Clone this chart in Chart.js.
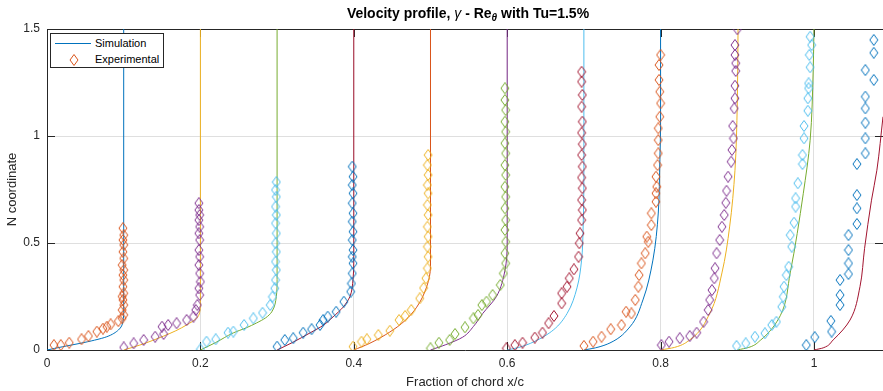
<!DOCTYPE html>
<html>
<head>
<meta charset="utf-8">
<script src="https://cdn.jsdelivr.net/npm/chart.js@4.4.0/dist/chart.umd.min.js"></script>
<style>
    html, body { margin: 0; padding: 0; background: #fff; }
    #wrap { position: relative; width: 883px; height: 391px; font-family: "Liberation Sans", Arial, sans-serif; color: #000; }
    #title { position: absolute; left: 47px; top: 5px; width: 842px; text-align: center; font-size: 14px; font-weight: bold; line-height: 16px; }
    #title sub { font-size: 10px; line-height: 0; vertical-align: -3px; }
    #legend { position: absolute; left: 50px; top: 33px; width: 114px; height: 35px; box-sizing: border-box; border: 1px solid #262626; background: #fff; font-size: 11px; }
    #legend .row { position: absolute; left: 44px; line-height: 13px; }
    #legend .line { position: absolute; left: 4px; top: 9px; width: 36px; height: 1px; background: #0072BD; }
    #legend svg { position: absolute; left: 18px; top: 20px; }
</style>
</head>
<body>
<div id="wrap">
    <canvas id="chart" width="883" height="391"></canvas>
    <div id="title">Velocity profile, <i style="font-weight:normal">γ</i> - Re<sub><i>θ</i></sub> with Tu=1.5%</div>
    <div id="legend">
        <div class="line"></div>
        <div class="row" style="top:3px">Simulation</div>
        <svg width="10" height="12"><polygon points="5,0.5 9,6 5,11.5 1,6" fill="none" stroke="#D95319" stroke-width="1"/></svg>
        <div class="row" style="top:19px">Experimental</div>
    </div>
</div>
<script>
// MATLAB default colour order
const colorOrder = ['#0072BD', '#D95319', '#EDB120', '#7E2F8E', '#77AC30', '#4DBEEE', '#A2142F'];

const xTicks = [0, 0.2, 0.4, 0.6, 0.8, 1];
const yTicks = [0, 0.5, 1, 1.5];

// Simulation profiles [x, y], one per station
const sim1 = [[0, 0], [0.02, 0.015], [0.043, 0.031], [0.062, 0.046], [0.078, 0.062], [0.093, 0.093], [0.099, 0.132], [0.1, 0.19], [0.1, 1.5]];
const sim2 = [[0.1, 0], [0.121, 0.023], [0.138, 0.045], [0.152, 0.065], [0.168, 0.09], [0.182, 0.117], [0.195, 0.148], [0.199, 0.175], [0.2, 0.22], [0.2, 1.5]];
const sim3 = [[0.2, 0], [0.22, 0.035], [0.243, 0.08], [0.26, 0.104], [0.273, 0.126], [0.285, 0.15], [0.293, 0.178], [0.299, 0.25], [0.3, 0.33], [0.3, 1.5]];
const sim4 = [[0.3, 0], [0.32, 0.035], [0.343, 0.08], [0.36, 0.115], [0.373, 0.155], [0.386, 0.2], [0.395, 0.25], [0.399, 0.33], [0.4, 0.42], [0.4, 1.5]];
const sim5 = [[0.4, 0], [0.42, 0.03], [0.447, 0.084], [0.466, 0.135], [0.482, 0.2], [0.495, 0.295], [0.5, 0.39], [0.5, 1.5]];
const sim6 = [[0.5, 0], [0.52, 0.025], [0.542, 0.06], [0.556, 0.11], [0.568, 0.17], [0.586, 0.25], [0.597, 0.37], [0.6, 0.5], [0.6, 1.5]];
const sim7 = [[0.6, 0], [0.615, 0.012], [0.634, 0.037], [0.66, 0.093], [0.678, 0.17], [0.691, 0.29], [0.697, 0.42], [0.699, 0.57], [0.7, 0.8], [0.7, 1.5]];
const sim8 = [[0.7, 0], [0.715, 0.01], [0.734, 0.033], [0.76, 0.108], [0.777, 0.234], [0.79, 0.42], [0.797, 0.64], [0.799, 0.89], [0.8, 1.05], [0.8, 1.5]];
const sim9 = [[0.8, 0], [0.818, 0.012], [0.838, 0.047], [0.864, 0.17], [0.88, 0.36], [0.89, 0.575], [0.897, 0.84], [0.9, 1.15], [0.901, 1.5]];
const sim10 = [[0.9, 0], [0.915, 0.012], [0.93, 0.045], [0.956, 0.16], [0.969, 0.36], [0.986, 0.73], [0.995, 0.98], [0.999, 1.31], [1.0, 1.5]];
const sim11 = [[1.0, 0], [1.012, 0.01], [1.025, 0.047], [1.047, 0.14], [1.06, 0.296], [1.066, 0.475], [1.075, 0.7], [1.082, 0.84], [1.09, 1.09]];

// Experimental points [x, y], one set per station
const exp1 = [[0.009, 0.023], [0.018, 0.023], [0.029, 0.034], [0.045, 0.05], [0.054, 0.065], [0.065, 0.086], [0.073, 0.1], [0.078, 0.109], [0.083, 0.12], [0.093, 0.135],
    [0.098, 0.148], [0.1, 0.164], [0.098, 0.187], [0.1, 0.21], [0.099, 0.234], [0.098, 0.25], [0.1, 0.265], [0.099, 0.296], [0.1, 0.327], [0.099, 0.35], [0.1, 0.374],
    [0.098, 0.397], [0.1, 0.428], [0.099, 0.459], [0.1, 0.491], [0.099, 0.514], [0.1, 0.537], [0.099, 0.569]];
const exp2 = [[0.1, 0.012], [0.113, 0.031], [0.126, 0.047], [0.141, 0.062], [0.152, 0.075], [0.15, 0.109], [0.158, 0.117], [0.169, 0.125], [0.182, 0.14], [0.191, 0.156],
    [0.194, 0.187], [0.196, 0.21], [0.199, 0.257], [0.198, 0.288], [0.2, 0.319], [0.199, 0.358], [0.198, 0.397], [0.199, 0.436], [0.198, 0.467], [0.199, 0.514],
    [0.198, 0.545], [0.199, 0.576], [0.198, 0.607], [0.199, 0.631], [0.198, 0.654], [0.198, 0.686]];
const exp3 = [[0.2, 0.003], [0.208, 0.039], [0.22, 0.05], [0.236, 0.081], [0.243, 0.086], [0.257, 0.117], [0.269, 0.148], [0.281, 0.174], [0.291, 0.21], [0.294, 0.249],
    [0.297, 0.288], [0.298, 0.327], [0.299, 0.374], [0.298, 0.413], [0.299, 0.459], [0.298, 0.499], [0.299, 0.545], [0.298, 0.592], [0.299, 0.631], [0.298, 0.67],
    [0.299, 0.716], [0.298, 0.748], [0.299, 0.785]];
const exp4 = [[0.3, 0.016], [0.31, 0.047], [0.321, 0.055], [0.334, 0.081], [0.345, 0.097], [0.356, 0.117], [0.36, 0.14], [0.366, 0.156], [0.377, 0.179], [0.387, 0.226],
    [0.396, 0.273], [0.397, 0.311], [0.398, 0.358], [0.399, 0.405], [0.398, 0.436], [0.399, 0.467], [0.398, 0.514], [0.399, 0.553], [0.398, 0.6], [0.399, 0.639],
    [0.398, 0.686], [0.399, 0.732], [0.398, 0.771], [0.399, 0.81], [0.398, 0.857]];
const exp5 = [[0.399, 0.016], [0.41, 0.039], [0.417, 0.05], [0.432, 0.07], [0.447, 0.09], [0.459, 0.14], [0.467, 0.159], [0.475, 0.187], [0.486, 0.241], [0.491, 0.29],
    [0.494, 0.335], [0.496, 0.382], [0.497, 0.436], [0.496, 0.483], [0.497, 0.53], [0.496, 0.576], [0.497, 0.631], [0.496, 0.678], [0.497, 0.732], [0.496, 0.771],
    [0.497, 0.818], [0.496, 0.864], [0.497, 0.911]];
const exp6 = [[0.5, 0.008], [0.511, 0.034], [0.525, 0.047], [0.532, 0.075], [0.545, 0.106], [0.556, 0.148], [0.562, 0.164], [0.567, 0.21], [0.573, 0.226], [0.581, 0.257],
    [0.591, 0.304], [0.595, 0.358], [0.598, 0.405], [0.597, 0.452], [0.598, 0.506], [0.597, 0.561], [0.598, 0.607], [0.597, 0.662], [0.598, 0.716], [0.597, 0.763],
    [0.598, 0.818], [0.597, 0.864], [0.598, 0.919], [0.597, 0.966], [0.598, 1.02], [0.597, 1.067], [0.598, 1.121], [0.597, 1.168], [0.597, 1.223]];
const exp7 = [[0.599, 0.008], [0.61, 0.023], [0.62, 0.034], [0.636, 0.058], [0.646, 0.081], [0.654, 0.125], [0.661, 0.159], [0.671, 0.218], [0.671, 0.265], [0.678, 0.296],
    [0.681, 0.335], [0.687, 0.377], [0.693, 0.436], [0.694, 0.499], [0.695, 0.545], [0.697, 0.607], [0.698, 0.654], [0.697, 0.701], [0.698, 0.756], [0.697, 0.806],
    [0.698, 0.857], [0.697, 0.911], [0.698, 0.962], [0.697, 1.015], [0.698, 1.067], [0.697, 1.137], [0.698, 1.192], [0.697, 1.254], [0.697, 1.3]];
const exp8 = [[0.7, 0.019], [0.712, 0.039], [0.723, 0.062], [0.735, 0.097], [0.749, 0.117], [0.755, 0.179], [0.762, 0.171], [0.767, 0.234], [0.771, 0.296], [0.772, 0.35],
    [0.775, 0.405], [0.78, 0.452], [0.784, 0.506], [0.782, 0.53], [0.788, 0.584], [0.788, 0.639], [0.794, 0.693], [0.794, 0.732], [0.795, 0.763], [0.794, 0.81],
    [0.796, 0.864], [0.797, 0.919], [0.797, 0.981], [0.797, 1.036], [0.799, 1.09], [0.8, 1.153], [0.799, 1.207], [0.798, 1.262], [0.798, 1.332], [0.8, 1.379]];
const exp9 = [[0.801, 0.023], [0.811, 0.039], [0.825, 0.055], [0.838, 0.065], [0.847, 0.081], [0.856, 0.132], [0.862, 0.187], [0.864, 0.234], [0.867, 0.28], [0.87, 0.335],
    [0.871, 0.382], [0.873, 0.452], [0.877, 0.514], [0.88, 0.576], [0.883, 0.631], [0.885, 0.688], [0.886, 0.744], [0.888, 0.81], [0.892, 0.88], [0.893, 0.935],
    [0.895, 0.989], [0.894, 1.047], [0.896, 1.129], [0.897, 1.176], [0.897, 1.235], [0.898, 1.304], [0.898, 1.34], [0.897, 1.379], [0.897, 1.425], [0.9, 1.499]];
const exp10 = [[0.899, 0.019], [0.911, 0.031], [0.923, 0.062], [0.936, 0.078], [0.945, 0.117], [0.951, 0.132], [0.958, 0.202], [0.96, 0.249], [0.961, 0.296], [0.964, 0.35],
    [0.967, 0.389], [0.971, 0.483], [0.969, 0.537], [0.974, 0.595], [0.976, 0.67], [0.976, 0.709], [0.979, 0.779], [0.985, 0.869], [0.985, 0.911], [0.987, 0.989],
    [0.987, 1.047], [0.992, 1.118], [0.992, 1.176], [0.993, 1.223], [0.993, 1.246], [0.995, 1.321], [0.994, 1.379], [0.997, 1.425], [0.995, 1.464]];
const exp11 = [[0.99, 0.023], [1.001, 0.06], [1.023, 0.086], [1.022, 0.136], [1.034, 0.21], [1.034, 0.257], [1.034, 0.327], [1.045, 0.355], [1.045, 0.405], [1.045, 0.467],
    [1.045, 0.537], [1.056, 0.589], [1.056, 0.662], [1.056, 0.724], [1.056, 0.869], [1.067, 0.919], [1.067, 0.989], [1.067, 1.062], [1.067, 1.129], [1.067, 1.184],
    [1.078, 1.262], [1.067, 1.308], [1.078, 1.389], [1.078, 1.449]];

const simulations = [sim1, sim2, sim3, sim4, sim5, sim6, sim7, sim8, sim9, sim10, sim11];
const experiments = [exp1, exp2, exp3, exp4, exp5, exp6, exp7, exp8, exp9, exp10, exp11];

const axisColor = '#262626';
const gridColor = 'rgba(38, 38, 38, 0.15)';

// hollow diamond marker, a bit taller than wide like MATLAB's 'd'
function diamond(color) {
    const c = document.createElement('canvas');
    c.width = 10;
    c.height = 12;
    const g = c.getContext('2d');
    g.strokeStyle = color;
    g.lineWidth = 1;
    g.beginPath();
    g.moveTo(5, 0.5);
    g.lineTo(9, 6);
    g.lineTo(5, 11.5);
    g.lineTo(1, 6);
    g.closePath();
    g.stroke();
    return c;
}

// build datasets in the same order MATLAB plotted them (line, then markers)
const datasets = [];
simulations.forEach((sim, k) => {
    const lineIdx = 2 * k;
    const markIdx = 2 * k + 1;
    datasets.push({
        label: 'Simulation',
        data: sim.map(p => ({ x: p[0], y: p[1] })),
        showLine: true,
        indexAxis: 'y',
        cubicInterpolationMode: 'monotone',
        borderColor: colorOrder[lineIdx % 7],
        borderWidth: 1,
        pointRadius: 0,
        fill: false,
        order: 100 - lineIdx
    });
    datasets.push({
        label: 'Experimental',
        data: experiments[k].map(p => ({ x: p[0], y: p[1] })),
        showLine: false,
        pointStyle: diamond(colorOrder[markIdx % 7]),
        pointRadius: 5,
        borderColor: colorOrder[markIdx % 7],
        order: 100 - markIdx
    });
});

// top border plus inward tick marks, like a MATLAB box axes
const boxAxes = {
    id: 'boxAxes',
    beforeDatasetsDraw(chart) {
        const { ctx, chartArea: a, scales: { x, y } } = chart;
        const len = 8;
        ctx.save();
        ctx.strokeStyle = axisColor;
        ctx.lineWidth = 1;
        ctx.beginPath();
        ctx.moveTo(a.left, a.top + 0.5);
        ctx.lineTo(a.right, a.top + 0.5);
        x.ticks.forEach(t => {
            const p = Math.round(x.getPixelForValue(t.value)) + 0.5;
            ctx.moveTo(p, a.bottom);
            ctx.lineTo(p, a.bottom - len);
            ctx.moveTo(p, a.top);
            ctx.lineTo(p, a.top + len);
        });
        y.ticks.forEach(t => {
            const p = Math.round(y.getPixelForValue(t.value)) + 0.5;
            ctx.moveTo(a.left, p);
            ctx.lineTo(a.left + len, p);
            ctx.moveTo(a.right, p);
            ctx.lineTo(a.right - len, p);
        });
        ctx.stroke();
        ctx.restore();
    }
};

new Chart(document.getElementById('chart').getContext('2d'), {
    type: 'scatter',
    data: { datasets: datasets },
    plugins: [boxAxes],
    options: {
        responsive: false,
        animation: false,
        layout: { autoPadding: false, padding: { top: 29, right: 0, left: 0, bottom: 0 } },
        plugins: {
            legend: { display: false },
            title: { display: false },
            tooltip: { enabled: false }
        },
        scales: {
            x: {
                type: 'linear',
                min: 0,
                max: 1.09,
                afterFit: s => { s.height = 41; s.paddingLeft = 0; s.paddingRight = 0; },
                afterBuildTicks: s => { s.ticks = xTicks.map(v => ({ value: v })); },
                grid: { color: gridColor, drawTicks: false },
                border: { color: axisColor, width: 1 },
                ticks: {
                    padding: 6,
                    color: axisColor,
                    font: { family: 'Liberation Sans', size: 12 },
                    callback: v => String(v)
                },
                title: {
                    display: true,
                    text: 'Fraction of chord x/c',
                    color: axisColor,
                    font: { family: 'Liberation Sans', size: 13 },
                    padding: { top: 0, bottom: 1 }
                }
            },
            y: {
                type: 'linear',
                min: 0,
                max: 1.5,
                afterFit: s => { s.width = 47; s.paddingTop = 0; s.paddingBottom = 0; },
                afterBuildTicks: s => { s.ticks = yTicks.map(v => ({ value: v })); },
                grid: { color: gridColor, drawTicks: false },
                border: { color: axisColor, width: 1 },
                ticks: {
                    padding: 7,
                    color: axisColor,
                    font: { family: 'Liberation Sans', size: 12 },
                    callback: v => String(v)
                },
                title: {
                    display: true,
                    text: 'N coordinate',
                    color: axisColor,
                    font: { family: 'Liberation Sans', size: 13 },
                    padding: { top: 5, bottom: 0 }
                }
            }
        }
    }
});
</script>
</body>
</html>
